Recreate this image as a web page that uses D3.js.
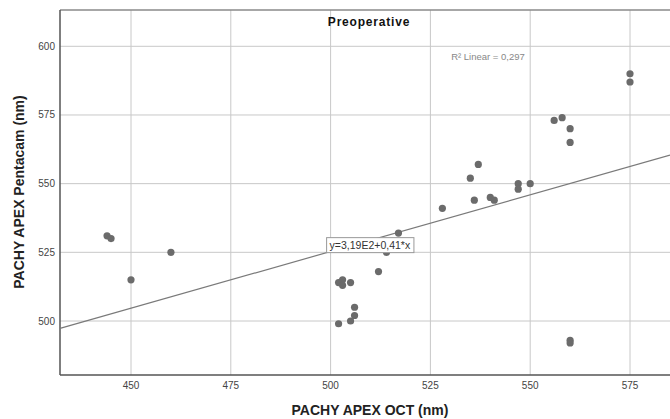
<!DOCTYPE html>
<html><head><meta charset="utf-8">
<script src="https://cdn.jsdelivr.net/npm/d3@7"></script>
<style>body{margin:0;background:#fff}svg{display:block}text{font-family:"Liberation Sans",Arial,sans-serif}</style>
</head><body><svg id="c" width="670" height="419"></svg>
<script>
const octValues = [444,445,460,450,517,514,512,502,503,503,505,506,506,505,502,537,535,528,536,540,541,547,547,550,575,575,556,558,560,560,560,560];
const pentacamValues = [531,530,525,515,532,525,518,514,515,513,514,505,502,500,499,557,552,541,544,545,544,550,548,550,590,587,573,574,570,565,493,492];
const xTicks = [450,475,500,525,550,575];
const yTicks = [500,525,550,575,600];
const fitIntercept = 318.8, fitSlope = 0.413;
const fitLabel = "y=3,19E2+0,41*x";
const r2Label = "R\u00B2 Linear = 0,297";
const title = "Preoperative";
const xTitle = "PACHY APEX OCT (nm)";
const yTitle = "PACHY APEX Pentacam (nm)";

const svg = d3.select("#c");
const L=60, R=670, T=10, B=375;
const x = d3.scaleLinear().domain([450,575]).range([131,630]);
const y = d3.scaleLinear().domain([500,600]).range([321,46.3]);
const xd0 = x.invert(L), xd1 = x.invert(R);

const g = svg.append("g");
// gridlines
g.selectAll(".gx").data(xTicks).join("line").attr("x1",d=>x(d)).attr("x2",d=>x(d)).attr("y1",T).attr("y2",B).attr("stroke","#c8c8c8").attr("stroke-width",1);
g.selectAll(".gy").data(yTicks).join("line").attr("x1",L).attr("x2",R).attr("y1",d=>y(d)).attr("y2",d=>y(d)).attr("stroke","#c8c8c8").attr("stroke-width",1);
// frame
g.append("line").attr("x1",L).attr("x2",R).attr("y1",T).attr("y2",T).attr("stroke","#8a8a8a").attr("stroke-width",1.5);
g.append("line").attr("x1",L).attr("x2",L).attr("y1",T).attr("y2",B).attr("stroke","#555").attr("stroke-width",1.5);
g.append("line").attr("x1",L).attr("x2",R).attr("y1",B).attr("y2",B).attr("stroke","#555").attr("stroke-width",1.5);
// tick labels
g.selectAll(".tx").data(xTicks).join("text").attr("x",d=>x(d)).attr("y",389).attr("text-anchor","middle").attr("font-size",10).attr("fill","#444").text(d=>d);
g.selectAll(".ty").data(yTicks).join("text").attr("x",55).attr("y",d=>y(d)+3.5).attr("text-anchor","end").attr("font-size",10).attr("fill","#444").text(d=>d);
// fit line
g.append("line").attr("x1",x(xd0)).attr("y1",y(fitIntercept+fitSlope*xd0)).attr("x2",x(xd1)).attr("y2",y(fitIntercept+fitSlope*xd1)).attr("stroke","#7a7a7a").attr("stroke-width",1.2);
// points
g.selectAll(".p").data(octValues.map((v,i)=>[v,pentacamValues[i]])).join("circle").attr("cx",d=>x(d[0])).attr("cy",d=>y(d[1])).attr("r",3.6).attr("fill","#6b6b6b");
// fit label box
const bx = x(499), by = y(fitIntercept+fitSlope*499);
const lt = g.append("text").attr("x",bx+3).attr("y",by-4).attr("font-size",10.5).attr("fill","#333").text(fitLabel);
const bb = lt.node().getBBox();
g.append("rect").attr("x",bx).attr("y",by-15).attr("width",bb.width+6).attr("height",15).attr("fill","#fff").attr("stroke","#999");
lt.raise();
// R2
g.append("text").attr("x",488).attr("y",60).attr("text-anchor","middle").attr("font-size",9.5).attr("fill","#888").text(r2Label);
// title
g.append("text").attr("x",369).attr("y",26).attr("text-anchor","middle").attr("font-size",12).attr("font-weight","bold").attr("letter-spacing",0.8).attr("fill","#111").text(title);
// axis titles
g.append("text").attr("x",370).attr("y",415).attr("text-anchor","middle").attr("font-size",14).attr("font-weight","bold").attr("fill","#222").text(xTitle);
g.append("text").attr("transform","translate(24,192) rotate(-90)").attr("text-anchor","middle").attr("font-size",14).attr("font-weight","bold").attr("fill","#222").text(yTitle);
</script></body></html>
